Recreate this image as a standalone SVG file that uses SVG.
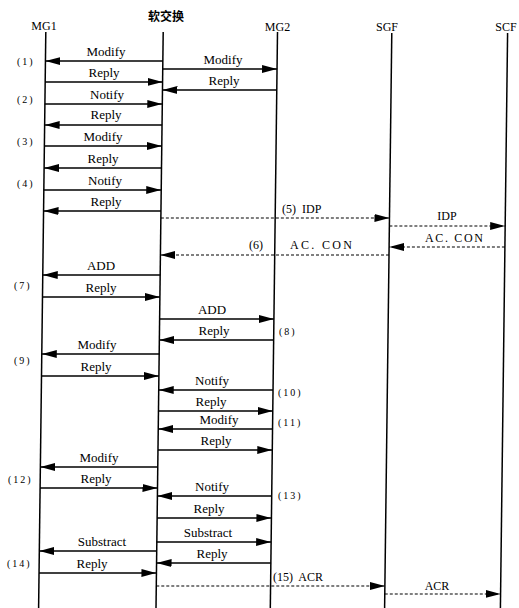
<svg xmlns="http://www.w3.org/2000/svg" width="519" height="608" viewBox="0 0 519 608">
<style>
text{font-family:"Liberation Serif","Times New Roman",serif;fill:#000}
.hd{font-size:12px;text-anchor:middle}
.cn{font-family:"Noto Sans CJK SC","Liberation Serif",sans-serif;font-size:12px;font-weight:bold;text-anchor:middle}
.m{font-size:13px;text-anchor:middle}
.n{font-size:10px;letter-spacing:2px}
.s{font-size:12px}
.life{stroke:#000;stroke-width:1.5;fill:none}
.a{stroke:#000;stroke-width:1.4;fill:none;marker-end:url(#ah)}
.d{stroke:#000;stroke-width:1.2;stroke-dasharray:3 2;fill:none;marker-end:url(#ah)}
</style>
<defs>
<marker id="ah" markerUnits="userSpaceOnUse" markerWidth="15" markerHeight="8" refX="15" refY="4" orient="auto">
<path d="M0,0 L15,4 L0,8 z" fill="#000"/>
</marker>
</defs>
<rect width="519" height="608" fill="#fff"/>
<g transform="skewX(-0.716)">
<g id="MG1"><line class="life" x1="46.2" y1="32" x2="46.2" y2="608"/></g>
<g id="softswitch"><line class="life" x1="163.6" y1="32" x2="163.6" y2="608"/></g>
<g id="MG2"><line class="life" x1="277.9" y1="32" x2="277.9" y2="608"/></g>
<g id="SGF"><line class="life" x1="392.2" y1="33" x2="392.2" y2="608"/></g>
<g id="SCF"><line class="life" x1="508" y1="33" x2="508" y2="608"/></g>
<g id="connectors">
<line class="a" x1="163.6" y1="61" x2="46.2" y2="61"/>
<line class="a" x1="163.6" y1="69" x2="277.9" y2="69"/>
<line class="a" x1="46.2" y1="82" x2="163.6" y2="82"/>
<line class="a" x1="277.9" y1="90" x2="163.6" y2="90"/>
<line class="a" x1="46.2" y1="104" x2="163.6" y2="104"/>
<line class="a" x1="163.6" y1="125" x2="46.2" y2="125"/>
<line class="a" x1="46.2" y1="146" x2="163.6" y2="146"/>
<line class="a" x1="163.6" y1="168" x2="46.2" y2="168"/>
<line class="a" x1="46.2" y1="190" x2="163.6" y2="190"/>
<line class="a" x1="163.6" y1="211" x2="46.2" y2="211"/>
<line class="d" x1="163.6" y1="218" x2="392.2" y2="218"/>
<line class="d" x1="392.2" y1="226" x2="508" y2="226"/>
<line class="d" x1="508" y1="247" x2="392.2" y2="247"/>
<line class="d" x1="392.2" y1="255" x2="163.6" y2="255"/>
<line class="a" x1="163.6" y1="275" x2="46.2" y2="275"/>
<line class="a" x1="46.2" y1="297" x2="163.6" y2="297"/>
<line class="a" x1="163.6" y1="319" x2="277.9" y2="319"/>
<line class="a" x1="277.9" y1="340" x2="163.6" y2="340"/>
<line class="a" x1="163.6" y1="354" x2="46.2" y2="354"/>
<line class="a" x1="46.2" y1="376" x2="163.6" y2="376"/>
<line class="a" x1="277.9" y1="390" x2="163.6" y2="390"/>
<line class="a" x1="163.6" y1="411" x2="277.9" y2="411"/>
<line class="a" x1="277.9" y1="429" x2="163.6" y2="429"/>
<line class="a" x1="163.6" y1="450" x2="277.9" y2="450"/>
<line class="a" x1="163.6" y1="467" x2="46.2" y2="467"/>
<line class="a" x1="46.2" y1="488" x2="163.6" y2="488"/>
<line class="a" x1="277.9" y1="496" x2="163.6" y2="496"/>
<line class="a" x1="163.6" y1="518" x2="277.9" y2="518"/>
<line class="a" x1="163.6" y1="542" x2="277.9" y2="542"/>
<line class="a" x1="163.6" y1="551" x2="46.2" y2="551"/>
<line class="a" x1="277.9" y1="563" x2="163.6" y2="563"/>
<line class="a" x1="46.2" y1="573" x2="163.6" y2="573"/>
<line class="d" x1="163.6" y1="586" x2="392.2" y2="586"/>
<line class="d" x1="392.2" y1="594" x2="508" y2="594"/>
</g>
</g>
<g id="headers">
<text class="hd" x="44" y="30">MG1</text>
<text class="cn" x="166" y="21">软交换</text>
<text class="hd" x="277.5" y="31">MG2</text>
<text class="hd" x="387" y="31">SGF</text>
<text class="hd" x="506" y="31">SCF</text>
</g>
<g id="labels">
<text class="m" x="106" y="56">Modify</text>
<text class="m" x="223" y="64">Modify</text>
<text class="m" x="104" y="77">Reply</text>
<text class="m" x="224" y="85">Reply</text>
<text class="m" x="107" y="99">Notify</text>
<text class="m" x="106" y="119">Reply</text>
<text class="m" x="103" y="141">Modify</text>
<text class="m" x="103" y="163">Reply</text>
<text class="m" x="105" y="185">Notify</text>
<text class="m" x="106" y="206">Reply</text>
<text class="m" x="101" y="270">ADD</text>
<text class="m" x="101" y="292">Reply</text>
<text class="m" x="212" y="314">ADD</text>
<text class="m" x="214" y="335">Reply</text>
<text class="m" x="97" y="349">Modify</text>
<text class="m" x="96" y="371">Reply</text>
<text class="m" x="212" y="385">Notify</text>
<text class="m" x="211" y="406">Reply</text>
<text class="m" x="219" y="424">Modify</text>
<text class="m" x="216" y="445">Reply</text>
<text class="m" x="99" y="462">Modify</text>
<text class="m" x="96" y="483">Reply</text>
<text class="m" x="212" y="491">Notify</text>
<text class="m" x="209" y="513">Reply</text>
<text class="m" x="208" y="537">Substract</text>
<text class="m" x="102" y="546">Substract</text>
<text class="m" x="212" y="558">Reply</text>
<text class="m" x="92" y="568">Reply</text>
<text class="s" x="282" y="213" xml:space="preserve">(5)  IDP</text>
<text class="s" x="447" y="220" text-anchor="middle">IDP</text>
<text class="s" x="425" y="242" textLength="58" lengthAdjust="spacing">AC. CON</text>
<text class="s" x="249" y="249">(6)</text>
<text class="s" x="290" y="249" textLength="62" lengthAdjust="spacing">AC. CON</text>
<text class="s" x="273" y="581" xml:space="preserve">(15)  ACR</text>
<text class="s" x="437" y="590" text-anchor="middle">ACR</text>
<text class="n" x="17" y="65">(1)</text>
<text class="n" x="17" y="103">(2)</text>
<text class="n" x="17" y="145">(3)</text>
<text class="n" x="17" y="187">(4)</text>
<text class="n" x="14" y="289">(7)</text>
<text class="n" x="14" y="364">(9)</text>
<text class="n" x="8" y="483">(12)</text>
<text class="n" x="7" y="567">(14)</text>
<text class="n" x="279" y="335">(8)</text>
<text class="n" x="278" y="396">(10)</text>
<text class="n" x="278" y="426">(11)</text>
<text class="n" x="278" y="499">(13)</text>
</g>
</svg>
